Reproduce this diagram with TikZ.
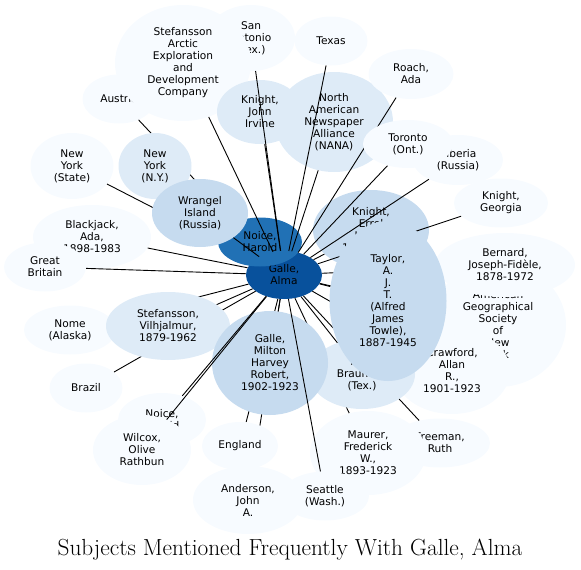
\documentclass[tikz,border=0pt]{standalone}
\usepackage{fontspec}
\usepackage{xcolor}
\usepackage{tikz}
\usetikzlibrary{shapes.geometric}
\newfontfamily\subjfont{DejaVu Sans}
\definecolor{toneA}{HTML}{F7FBFF}
\definecolor{toneB}{HTML}{DEEBF7}
\definecolor{toneC}{HTML}{C6DBEF}
\definecolor{toneD}{HTML}{2171B5}
\definecolor{toneE}{HTML}{08519C}
\pgfdeclarelayer{under}
\pgfdeclarelayer{over}
\pgfsetlayers{under,main,over}

\begin{document}
\begin{tikzpicture}[
  x=1pt, y=-1pt,
  font=\subjfont\fontsize{10.6}{12}\selectfont,
  subj/.style={ellipse, inner sep=0pt, align=center},
  ell/.style 2 args={minimum width=#1pt, minimum height=#2pt},
  pale/.style={subj, fill=toneA},
  soft/.style={subj, fill=toneB},
  light/.style={subj, fill=toneC},
  deep/.style={subj, fill=toneD},
  hub/.style={subj, fill=toneE},
  link/.style={line width=0.9pt},
]
\useasboundingbox (0,0) rectangle (581,570);
% nodes that the connectors run over
\begin{pgfonlayer}{under}
\node[pale, ell={88}{66}] (sanantonio) at (251,38) {San\\Antonio\\(Tex.)};
\node[pale, ell={73}{49}] (austria) at (119,99) {Austria};
\node[pale, ell={136}{116}] (arctic) at (183,63) {Stefansson\\Arctic\\Exploration\\and\\Development\\Company};
\node[soft, ell={86}{64}] (jirvine) at (260,112) {Knight,\\John\\Irvine};
\node[pale, ell={73}{49}] (texas) at (331,41) {Texas};
\node[soft, ell={118}{100}] (nana) at (334,122) {North\\American\\Newspaper\\Alliance\\(NANA)};
\node[pale, ell={85}{50}] (roach) at (411,74) {Roach,\\Ada};
\node[pale, ell={90}{50}] (siberia) at (458,160) {Siberia\\(Russia)};
\node[pale, ell={94}{49}] (georgia) at (501,203) {Knight,\\Georgia};
\node[light, ell={116}{80}] (errol) at (371,230) {Knight,\\Errol\\Lorne,\\1897-1923};
\node[pale, ell={136}{124}] (ags) at (498,325) {American\\Geographical\\Society\\of\\New\\York};
\node[pale, ell={140}{64}] (bernard) at (505,265) {Bernard,\\Joseph-Fidèle,\\1878-1972};
\node[pale, ell={116}{86}] (crawford) at (452,371) {Crawford,\\Allan\\R.,\\1901-1923};
\node[pale, ell={100}{49}] (freeman) at (440,443) {Freeman,\\Ruth};
\node[pale, ell={116}{84}] (maurer) at (368,453) {Maurer,\\Frederick\\W.,\\1893-1923};
\node[pale, ell={88}{49}] (seattle) at (325,496) {Seattle\\(Wash.)};
\node[pale, ell={110}{68}] (anderson) at (248,500) {Anderson,\\John\\A.};
\node[pale, ell={118}{64}] (blackjack) at (92,237) {Blackjack,\\Ada,\\1898-1983};
\node[pale, ell={82}{49}] (britain) at (45,267) {Great\\Britain};
\node[pale, ell={83}{66}] (nystate) at (72,166) {New\\York\\(State)};
\node[pale, ell={92}{49}] (nome) at (70,330) {Nome\\(Alaska)};
\node[pale, ell={73}{49}] (brazil) at (86,388) {Brazil};
\node[pale, ell={88}{54}] (noice) at (162,420) {Noice,\\Harold};
\node[pale, ell={98}{70}] (wilcox) at (142,450) {Wilcox,\\Olive\\Rathbun};
\node[hub, ell={76}{48}] (alma) at (284,275) {Galle,\\Alma};
\draw[link] (austria) -- (alma);
\draw[link] (nystate) -- (alma);
\node[soft, ell={73}{66}] (nycity) at (155,166) {New\\York\\(N.Y.)};
\draw[link] (nycity) -- (alma);
\node[deep, ell={84}{49}] (harold) at (260,242) {Noice,\\Harold};
\node[light, ell={96}{68}] (wrangel) at (200,213) {Wrangel\\Island\\(Russia)};
\end{pgfonlayer}
% nodes that hide the connectors
\begin{pgfonlayer}{over}
\node[pale, ell={90}{48}] (toronto) at (408,144) {Toronto\\(Ont.)};
\node[soft, ell={106}{70}] (braunfels) at (362,374) {New\\Braunfels\\(Tex.)};
\node[light, ell={117}{160}] (taylor) at (388,301) {Taylor,\\A.\\J.\\T.\\(Alfred\\James\\Towle),\\1887-1945};
\node[soft, ell={124}{68}] (vilhjalmur) at (168,326) {Stefansson,\\Vilhjalmur,\\1879-1962};
\node[light, ell={116}{104}] (milton) at (270,363) {Galle,\\Milton\\Harvey\\Robert,\\1902-1923};
\node[pale, ell={76}{48}] (england) at (240,446) {England};
\end{pgfonlayer}
\draw[link] (alma) -- (arctic);
\draw[link] (alma) -- (sanantonio);
\draw[link] (alma) -- (jirvine);
\draw[link] (alma) -- (texas);
\draw[link] (alma) -- (nana);
\draw[link] (alma) -- (roach);
\draw[link] (alma) -- (toronto);
\draw[link] (alma) -- (siberia);
\draw[link] (alma) -- (georgia);
\draw[link] (alma) -- (errol);
\draw[link] (alma) -- (taylor);
\draw[link] (alma) -- (bernard);
\draw[link] (alma) -- (ags);
\draw[link] (alma) -- (crawford);
\draw[link] (alma) -- (braunfels);
\draw[link] (alma) -- (freeman);
\draw[link] (alma) -- (maurer);
\draw[link] (alma) -- (milton);
\draw[link] (alma) -- (england);
\draw[link] (alma) -- (anderson);
\draw[link] (alma) -- (vilhjalmur);
\draw[link] (alma) -- (nome);
\draw[link] (alma) -- (brazil);
\draw[link] (alma) -- (britain);
\draw[link] (alma) -- (blackjack);
\draw[link] (alma) -- (wrangel);
\begin{pgfonlayer}{over}
\draw[link] (alma) -- (seattle);
\draw[link] (alma) -- (noice);
\draw[link] (alma) -- (wilcox);
\end{pgfonlayer}
\node[font=\rmfamily\fontsize{23.3}{28}\selectfont, anchor=base] (title) at (290,555) {Subjects Mentioned Frequently With Galle, Alma};
\end{tikzpicture}
\end{document}
